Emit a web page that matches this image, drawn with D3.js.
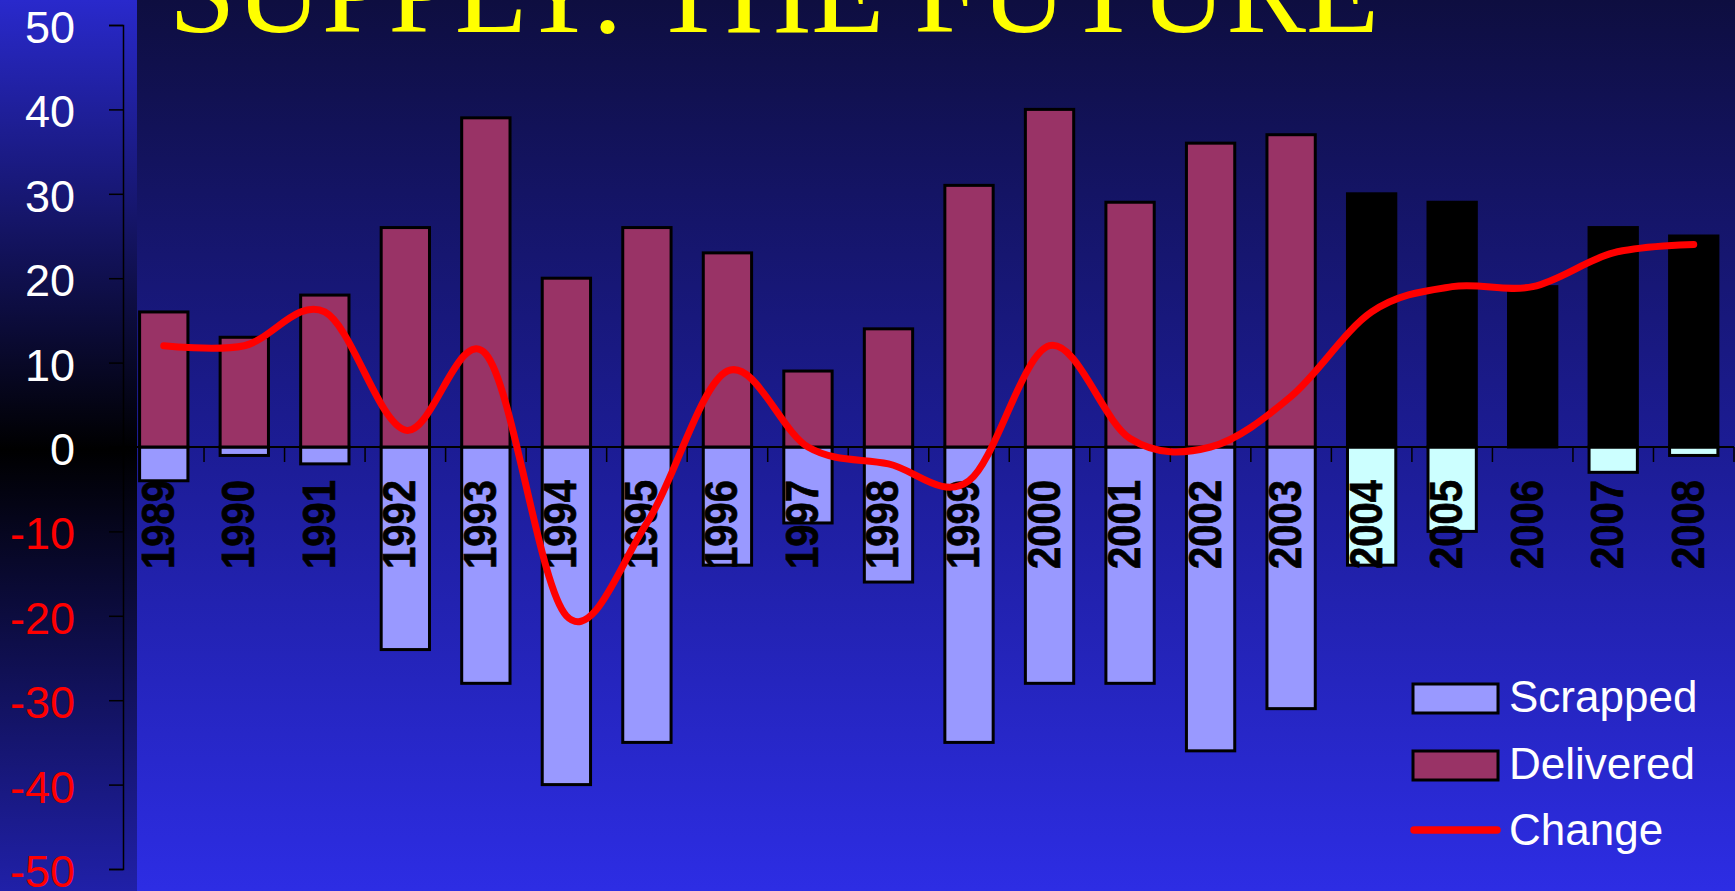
<!DOCTYPE html>
<html>
<head>
<meta charset="utf-8">
<script src="https://cdn.jsdelivr.net/npm/d3@7"></script>
<style>
  html, body { margin: 0; padding: 0; background: #000; overflow: hidden; }
  svg { display: block; }
</style>
</head>
<body>
<svg id="chart" width="1735" height="891"></svg>
<script>
// Ships delivered vs scrapped per year, with the net change as a smoothed line.
// 2004 onwards are projections (drawn black / pale cyan).

const years = ['1989','1990','1991','1992','1993','1994','1995','1996','1997','1998',
               '1999','2000','2001','2002','2003','2004','2005','2006','2007','2008'];
const delivered = [16, 13, 18, 26, 39, 20, 26, 23, 9, 14, 31, 40, 29, 36, 37, 30, 29, 19, 26, 25];
const scrapped = [-4, -1, -2, -24, -28, -40, -35, -14, -9, -16, -35, -28, -28, -36, -31, -14, -10, 0, -3, -1];
const change = [12, 12, 16, 2, 11, -20, -9, 9, 0, -2, -4, 12, 1, 0, 6, 16, 19, 19, 23, 24];
const projected = years.map(y => +y >= 2004);

const yTicks = [-50, -40, -30, -20, -10, 0, 10, 20, 30, 40, 50];
const legendItems = ['Scrapped', 'Delivered', 'Change'];
const titleText = 'SUPPLY: THE FUTURE';

const W = 1735, H = 891;
const panelW = 137;
const sans = 'Arial, "Liberation Sans", sans-serif';

const colors = {
  delivered: '#993366',
  scrapped: '#9999ff',
  futureDelivered: '#000000',
  futureScrapped: '#ccffff',
  change: '#ff0000'
};

const svg = d3.select('#chart');
const defs = svg.append('defs');

// ===== backgrounds =====
const sideGrad = defs.append('linearGradient')
  .attr('id', 'sideGrad').attr('x1', 0).attr('y1', 0).attr('x2', 0).attr('y2', 1);
sideGrad.append('stop').attr('offset', '0%').attr('stop-color', '#2929cc');
sideGrad.append('stop').attr('offset', '50.5%').attr('stop-color', '#000000');
sideGrad.append('stop').attr('offset', '100%').attr('stop-color', '#2020a8');

const plotGrad = defs.append('linearGradient')
  .attr('id', 'plotGrad').attr('x1', 0).attr('y1', 0).attr('x2', 0).attr('y2', 1);
plotGrad.append('stop').attr('offset', '0%').attr('stop-color', '#0e0e40');
plotGrad.append('stop').attr('offset', '50%').attr('stop-color', '#1c1c94');
plotGrad.append('stop').attr('offset', '100%').attr('stop-color', '#2d2de4');

svg.append('rect').attr('x', 0).attr('y', 0).attr('width', panelW).attr('height', H)
  .attr('fill', 'url(#sideGrad)');
svg.append('rect').attr('x', panelW).attr('y', 0).attr('width', W - panelW).attr('height', H)
  .attr('fill', 'url(#plotGrad)');

// ===== scales =====
const x = d3.scaleBand()
  .domain(years)
  .range([123.5, 1734])
  .paddingInner(0.4)
  .paddingOuter(0.2);

const y = d3.scaleLinear().domain([-50, 50]).range([869, 25]);

// ===== title (runs off the top of the slide, as in the original) =====
svg.append('text')
  .attr('x', 169).attr('y', 32)
  .attr('font-family', '"Times New Roman", "Liberation Serif", serif')
  .attr('font-size', 119.5)
  .attr('fill', '#ffff00')
  .text(titleText);

// ===== bars =====
const rows = years.map((yr, i) => ({
  year: yr, del: delivered[i], scr: scrapped[i], proj: projected[i]
}));

const bars = svg.append('g');

bars.selectAll('.scr')
  .data(rows.filter(d => d.scr !== 0))
  .enter().append('rect')
  .attr('class', 'scr')
  .attr('x', d => x(d.year))
  .attr('width', x.bandwidth())
  .attr('y', y(0))
  .attr('height', d => y(d.scr) - y(0))
  .attr('fill', d => d.proj ? colors.futureScrapped : colors.scrapped)
  .attr('stroke', '#000').attr('stroke-width', 3);

bars.selectAll('.del')
  .data(rows)
  .enter().append('rect')
  .attr('class', 'del')
  .attr('x', d => x(d.year))
  .attr('width', x.bandwidth())
  .attr('y', d => y(d.del))
  .attr('height', d => y(0) - y(d.del))
  .attr('fill', d => d.proj ? colors.futureDelivered : colors.delivered)
  .attr('stroke', '#000').attr('stroke-width', 3);

// ===== y axis =====
const yAxis = svg.append('g')
  .attr('transform', `translate(${x.range()[0] - 0.5},0)`)
  .call(d3.axisLeft(y)
    .tickValues(yTicks)
    .tickFormat(d => String(d))   // plain hyphen, not the unicode minus
    .tickSize(14).tickSizeOuter(14).tickPadding(34));

yAxis.select('.domain').attr('stroke', '#000').attr('stroke-width', 1.5);
yAxis.selectAll('.tick line').attr('stroke', '#000').attr('stroke-width', 1.5);
yAxis.selectAll('.tick text')
  .attr('font-family', sans)
  .attr('font-size', 45)
  .attr('dy', '0.39em')
  .attr('fill', d => d < 0 ? '#ff0000' : '#ffffff');

// ===== category axis along zero =====
const r0 = x.range()[0], r1 = x.range()[1];
const zeroAxis = svg.append('g');
zeroAxis.append('line')
  .attr('x1', r0).attr('x2', r1)
  .attr('y1', y(0)).attr('y2', y(0))
  .attr('stroke', '#000').attr('stroke-width', 2);

const boundaries = d3.range(1, years.length + 1).map(k => r0 + k * x.step());
zeroAxis.selectAll('.xtick')
  .data(boundaries)
  .enter().append('line')
  .attr('class', 'xtick')
  .attr('x1', d => d).attr('x2', d => d)
  .attr('y1', y(0)).attr('y2', y(0) + 15)
  .attr('stroke', '#000').attr('stroke-width', 1.5);

zeroAxis.selectAll('.xlabel')
  .data(years)
  .enter().append('text')
  .attr('class', 'xlabel')
  .attr('transform', d => `translate(${x(d) + x.bandwidth() / 2 + 10},480) rotate(-90) scale(1,1.14)`)
  .attr('text-anchor', 'end')
  .attr('font-family', sans)
  .attr('font-weight', 700)
  .attr('font-size', 40)
  .attr('fill', '#000')
  .attr('stroke', '#000')
  .attr('stroke-width', 0.6)
  .text(d => d);

// ===== change line =====
const line = d3.line()
  .x((d, i) => x(years[i]) + x.bandwidth() / 2)
  .y(d => y(d))
  .curve(d3.curveCardinal.tension(0));

svg.append('path')
  .datum(change)
  .attr('fill', 'none')
  .attr('stroke', colors.change)
  .attr('stroke-width', 7)
  .attr('stroke-linejoin', 'round')
  .attr('stroke-linecap', 'round')
  .attr('d', line);

// ===== legend =====
const legend = svg.append('g').attr('transform', 'translate(1413,684)');
const item = legend.selectAll('.item')
  .data(legendItems)
  .enter().append('g')
  .attr('class', 'item')
  .attr('transform', (d, i) => `translate(0,${i * 67})`);

item.filter(d => d !== 'Change').append('rect')
  .attr('width', 85).attr('height', 29)
  .attr('fill', d => d === 'Scrapped' ? colors.scrapped : colors.delivered)
  .attr('stroke', '#000').attr('stroke-width', 3);

item.filter(d => d === 'Change').append('line')
  .attr('x1', 1).attr('x2', 84)
  .attr('y1', 12).attr('y2', 12)
  .attr('stroke', colors.change)
  .attr('stroke-width', 7.5)
  .attr('stroke-linecap', 'round');

item.append('text')
  .attr('x', 96).attr('y', (d, i) => i === 2 ? 27 : 28)
  .attr('font-family', sans)
  .attr('font-size', 44)
  .attr('fill', '#fff')
  .text(d => d);
</script>
</body>
</html>
